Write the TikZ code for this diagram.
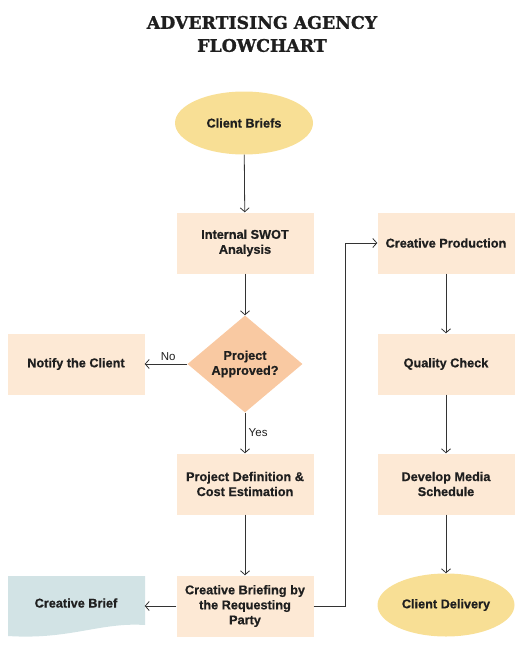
\documentclass[tikz,border=0pt]{standalone}
\usepackage{fontspec}
\setmainfont{Liberation Sans}[BoldFeatures={FakeBold=0.6}]
\newfontfamily\titlefont{DejaVu Serif}[BoldFeatures={FakeBold=1.2}]
\usetikzlibrary{arrows.meta,shapes.geometric}

\definecolor{termyellow}{HTML}{F8DF95}
\definecolor{boxpeach}{HTML}{FDE9D5}
\definecolor{decpeach}{HTML}{F9C9A2}
\definecolor{briefblue}{HTML}{D2E3E5}
\definecolor{linegrey}{HTML}{333333}

\begin{document}
\begin{tikzpicture}[x=1pt, y=-1pt,
    every node/.style={font=\bfseries\fontsize{12.7}{15}\selectfont, text=black!88, align=center},
    stepbox/.style={rectangle, fill=boxpeach, minimum width=137pt, minimum height=61pt, inner sep=2pt},
    terminal/.style={ellipse, fill=termyellow, minimum width=138pt, minimum height=63pt, inner sep=0pt},
    decision/.style={diamond, fill=decpeach, minimum width=115pt, minimum height=97pt, inner sep=0pt},
    flowlabel/.style={font=\fontsize{11.5}{13}\selectfont},
    arrow/.style={draw=linegrey, line width=0.8pt, -{Straight Barb[length=4pt,width=9pt]}}]
        \useasboundingbox (0,0) rectangle (525,669);

        % Title
        \node[font=\titlefont\bfseries\fontsize{17.3}{23}\selectfont] (title) at (262,34) {ADVERTISING AGENCY\\FLOWCHART};

        % Left column
        \node[terminal] (briefs) at (244,123) {Client Briefs};
        \node[stepbox] (swot) at (245,243) {Internal SWOT\\Analysis};
        \node[decision] (approved) at (245,364) {Project\\Approved?};
        \node[stepbox] (notify) at (76,364) {Notify the Client};
        \node[stepbox] (definition) at (245,484) {Project Definition \&\\Cost Estimation};
        \node[stepbox] (briefing) at (245,606) {Creative Briefing by\\the Requesting\\Party};

        % Creative brief (document shape)
        \fill[briefblue] (8,576) -- (145,576) -- (145,625)
            .. controls (100,622) and (70,640) .. (8,636) -- cycle;
        \node[minimum width=137pt, minimum height=50pt] (brief) at (76,603) {Creative Brief};

        % Right column
        \node[stepbox] (production) at (446,243) {Creative Production};
        \node[stepbox] (quality) at (446,364) {Quality Check};
        \node[stepbox] (media) at (446,484) {Develop Media\\Schedule};
        \node[terminal, minimum width=137pt] (delivery) at (446,605) {Client Delivery};

        % Connectors
        \coordinate (bend) at (345,606);
        \draw[arrow] (briefs) -- (swot);
        \draw[arrow] (swot) -- (approved);
        \draw[arrow] (approved) -- node[flowlabel, above, pos=0.45] (no) {No} (notify);
        \draw[arrow] (approved) -- node[flowlabel, right, pos=0.5] (yes) {Yes} (definition);
        \draw[arrow] (definition) -- (briefing);
        \draw[arrow] (briefing) -- (brief.east |- briefing.west);
        \draw[arrow] (briefing.east) -- (bend) |- (production.west);
        \draw[arrow] (production) -- (quality);
        \draw[arrow] (quality) -- (media);
        \draw[arrow] (media) -- (delivery);
    \end{tikzpicture}
\end{document}
